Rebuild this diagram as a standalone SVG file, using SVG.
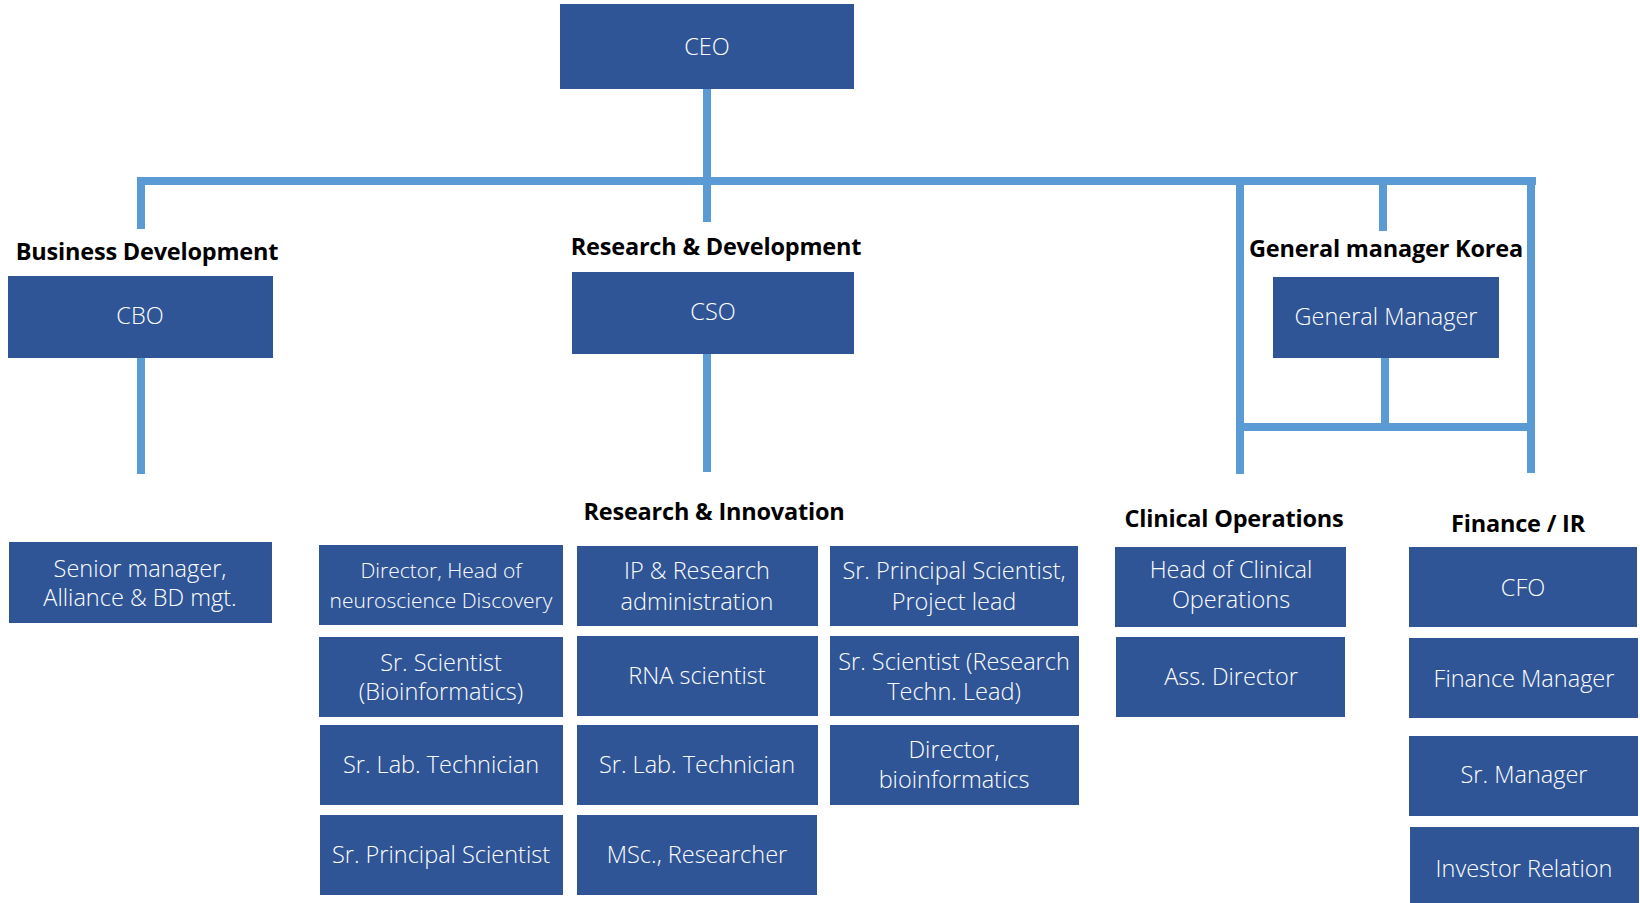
<svg xmlns="http://www.w3.org/2000/svg" width="1640" height="903" viewBox="0 0 1640 903">
<style>
.box{fill:#2F5597}
.ln{fill:#5B9BD5}
.t{font-family:"Open Sans","Noto Sans","Liberation Sans",sans-serif;font-size:23.5px;font-weight:300;fill:#FFFFFF;text-anchor:middle}
.s{font-size:21px}
.h{font-family:"Open Sans","Noto Sans","Liberation Sans",sans-serif;font-size:23.5px;font-weight:700;fill:#000000;text-anchor:middle;letter-spacing:-0.2px}
</style>
<rect width="1640" height="903" fill="#FFFFFF"/>
<g id="connectors">
<rect class="ln" x="137" y="177" width="1399" height="8"/>
<rect class="ln" x="703" y="89" width="8" height="133"/>
<rect class="ln" x="137" y="177" width="8" height="52"/>
<rect class="ln" x="137" y="358" width="8" height="116"/>
<rect class="ln" x="703" y="354" width="8" height="118"/>
<rect class="ln" x="1236" y="177" width="8" height="297"/>
<rect class="ln" x="1379" y="185" width="8" height="46"/>
<rect class="ln" x="1527" y="177" width="8" height="296"/>
<rect class="ln" x="1381" y="358" width="8" height="69"/>
<rect class="ln" x="1236" y="423" width="299" height="8"/>
</g>
<g id="titles">
<text class="h" x="147" y="260">Business Development</text>
<text class="h" x="716" y="255">Research &amp; Development</text>
<text class="h" x="1386" y="257">General manager Korea</text>
<text class="h" x="714" y="520">Research &amp; Innovation</text>
<text class="h" x="1234" y="527">Clinical Operations</text>
<text class="h" x="1518" y="532">Finance / IR</text>
</g>
<g id="ceo"><rect class="box" x="560" y="4" width="294" height="85"/><text class="t" x="707" y="55">CEO</text></g>
<g id="cbo"><rect class="box" x="8" y="276" width="265" height="82"/><text class="t" x="140" y="324">CBO</text></g>
<g id="cso"><rect class="box" x="572" y="272" width="282" height="82"/><text class="t" x="713" y="320">CSO</text></g>
<g id="gm"><rect class="box" x="1273" y="277" width="226" height="81"/><text class="t" x="1386" y="325">General Manager</text></g>
<g id="senior-manager"><rect class="box" x="9" y="542" width="263" height="81"/><text class="t" x="140" y="577">Senior manager,</text><text class="t" x="140" y="606">Alliance &amp; BD mgt.</text></g>
<g id="director-neuro"><rect class="box" x="319" y="545" width="244" height="80"/><text class="t s" x="441" y="578">Director, Head of</text><text class="t s" x="441" y="608">neuroscience Discovery</text></g>
<g id="sr-sci-bio"><rect class="box" x="319" y="637" width="244" height="80"/><text class="t" x="441" y="671">Sr. Scientist</text><text class="t" x="441" y="700">(Bioinformatics)</text></g>
<g id="sr-lab-1"><rect class="box" x="320" y="725" width="243" height="80"/><text class="t" x="441" y="773">Sr. Lab. Technician</text></g>
<g id="sr-principal"><rect class="box" x="320" y="815" width="243" height="80"/><text class="t" x="441" y="863">Sr. Principal Scientist</text></g>
<g id="ip-research"><rect class="box" x="577" y="546" width="241" height="80"/><text class="t" x="697" y="579">IP &amp; Research</text><text class="t" x="697" y="610">administration</text></g>
<g id="rna"><rect class="box" x="577" y="636" width="241" height="80"/><text class="t" x="697" y="684">RNA scientist</text></g>
<g id="sr-lab-2"><rect class="box" x="577" y="725" width="241" height="80"/><text class="t" x="697" y="773">Sr. Lab. Technician</text></g>
<g id="msc"><rect class="box" x="577" y="815" width="240" height="80"/><text class="t" x="697" y="863">MSc., Researcher</text></g>
<g id="sr-principal-lead"><rect class="box" x="830" y="546" width="248" height="80"/><text class="t" x="954" y="579">Sr. Principal Scientist,</text><text class="t" x="954" y="610">Project lead</text></g>
<g id="sr-sci-research"><rect class="box" x="830" y="636" width="249" height="80"/><text class="t" x="954" y="670">Sr. Scientist (Research</text><text class="t" x="954" y="700">Techn. Lead)</text></g>
<g id="director-bio"><rect class="box" x="830" y="725" width="249" height="80"/><text class="t" x="954" y="758">Director,</text><text class="t" x="954" y="788">bioinformatics</text></g>
<g id="head-clinical"><rect class="box" x="1115" y="547" width="231" height="80"/><text class="t" x="1231" y="578">Head of Clinical</text><text class="t" x="1231" y="608">Operations</text></g>
<g id="ass-director"><rect class="box" x="1116" y="637" width="229" height="80"/><text class="t" x="1231" y="685">Ass. Director</text></g>
<g id="cfo"><rect class="box" x="1409" y="547" width="228" height="80"/><text class="t" x="1523" y="596">CFO</text></g>
<g id="finance-manager"><rect class="box" x="1409" y="638" width="229" height="80"/><text class="t" x="1524" y="687">Finance Manager</text></g>
<g id="sr-manager"><rect class="box" x="1409" y="736" width="229" height="80"/><text class="t" x="1524" y="783">Sr. Manager</text></g>
<g id="investor-relation"><rect class="box" x="1410" y="827" width="229" height="82"/><text class="t" x="1524" y="877">Investor Relation</text></g>
</svg>
